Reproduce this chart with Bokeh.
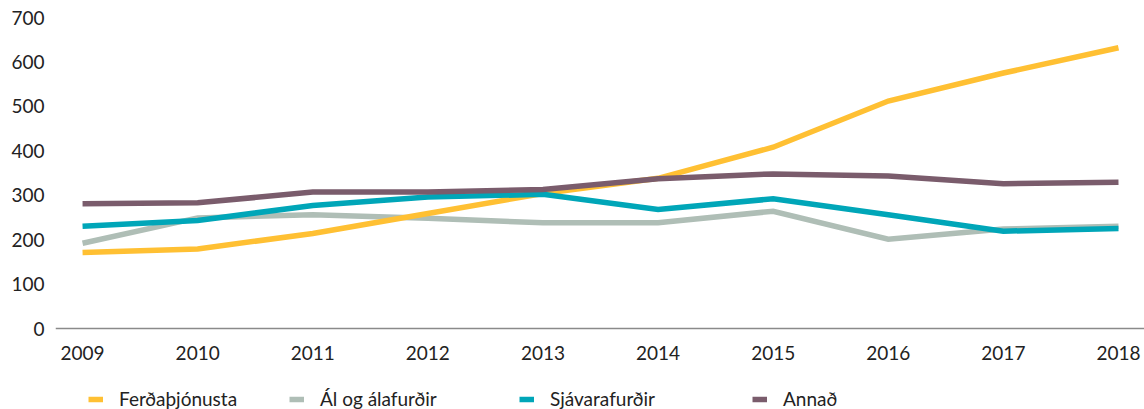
from bokeh.plotting import figure
from bokeh.models import FixedTicker, Legend, LegendItem, Range1d
from bokeh.embed import file_html
from bokeh.resources import INLINE

# ---- data ----
years = [2009, 2010, 2011, 2012, 2013, 2014, 2015, 2016, 2017, 2018]
year_labels = ["2009", "2010", "2011", "2012", "2013", "2014", "2015", "2016", "2017", "2018"]
ferdathjonusta = [171, 179, 214, 259, 304, 338, 408, 512, 575, 632]
al_og_alafurdir = [192, 249, 256, 248, 238, 238, 264, 201, 224, 230]
sjavarafurdir = [230, 243, 277, 296, 302, 268, 292, 256, 219, 225]
annad = [281, 283, 307, 307, 313, 337, 348, 343, 326, 329]
series_names = ["Ferðaþjónusta", "Ál og álafurðir", "Sjávarafurðir", "Annað"]
y_ticks = [0, 100, 200, 300, 400, 500, 600, 700]

# ---- styles ----
colors = ["#FFC033", "#AFBEB6", "#00A6B8", "#7A5C6C"]
FONT = "Lato"
FS = "19px"
TXT = "#222222"

# frame spans down to the bottom; the value axis keeps 0..700 at the same pixels
Y_BOTTOM = -182.3
p = figure(width=1144, height=409, output_backend="svg", toolbar_location=None,
           x_range=Range1d(2008.765, 2018.226), y_range=Range1d(Y_BOTTOM, 700),
           min_border_left=55, min_border_right=0, min_border_top=17, min_border_bottom=0)
p.outline_line_color = None
p.xgrid.visible = False
p.ygrid.visible = False
p.background_fill_color = "white"
p.border_fill_color = "white"

series = [ferdathjonusta, al_og_alafurdir, sjavarafurdir, annad]
renderers = [None] * 4
for idx in [1, 0, 2, 3]:
    renderers[idx] = p.line(years, series[idx], line_color=colors[idx], line_width=5.5,
                            line_join="miter")

# x axis, fixed at value 0
xa = p.xaxis[0]
xa.fixed_location = 0
xa.ticker = FixedTicker(ticks=years)
xa.major_label_overrides = {y: l for y, l in zip(years, year_labels)}
xa.axis_line_color = "#8a8a8a"
xa.axis_line_width = 1.5
xa.major_tick_line_color = None
xa.minor_tick_line_color = None
xa.major_tick_out = 0
xa.major_tick_in = 0
xa.major_label_standoff = 17
xa.major_label_text_font = FONT
xa.major_label_text_font_size = FS
xa.major_label_text_color = TXT

# y axis
ya = p.yaxis[0]
ya.ticker = FixedTicker(ticks=y_ticks)
ya.axis_line_color = None
ya.major_tick_line_color = None
ya.minor_tick_line_color = None
ya.major_tick_out = 0
ya.major_tick_in = 0
ya.major_label_standoff = 11
ya.major_label_text_font = FONT
ya.major_label_text_font_size = FS
ya.major_label_text_color = TXT

# legends, one per item, in the lower strip of the frame
legend_x = [33, 234, 464, 697]
for i in range(4):
    lg = Legend(items=[LegendItem(label=series_names[i], renderers=[renderers[i]])],
                location=(legend_x[i], -1), orientation="horizontal",
                padding=0, margin=0, spacing=0,
                glyph_width=15, glyph_height=20, label_height=20, label_standoff=16,
                label_text_font=FONT, label_text_font_size=FS, label_text_color=TXT,
                border_line_color=None, background_fill_alpha=0)
    p.add_layout(lg, "center")

open("out.html", "w").write(file_html(p, INLINE))
